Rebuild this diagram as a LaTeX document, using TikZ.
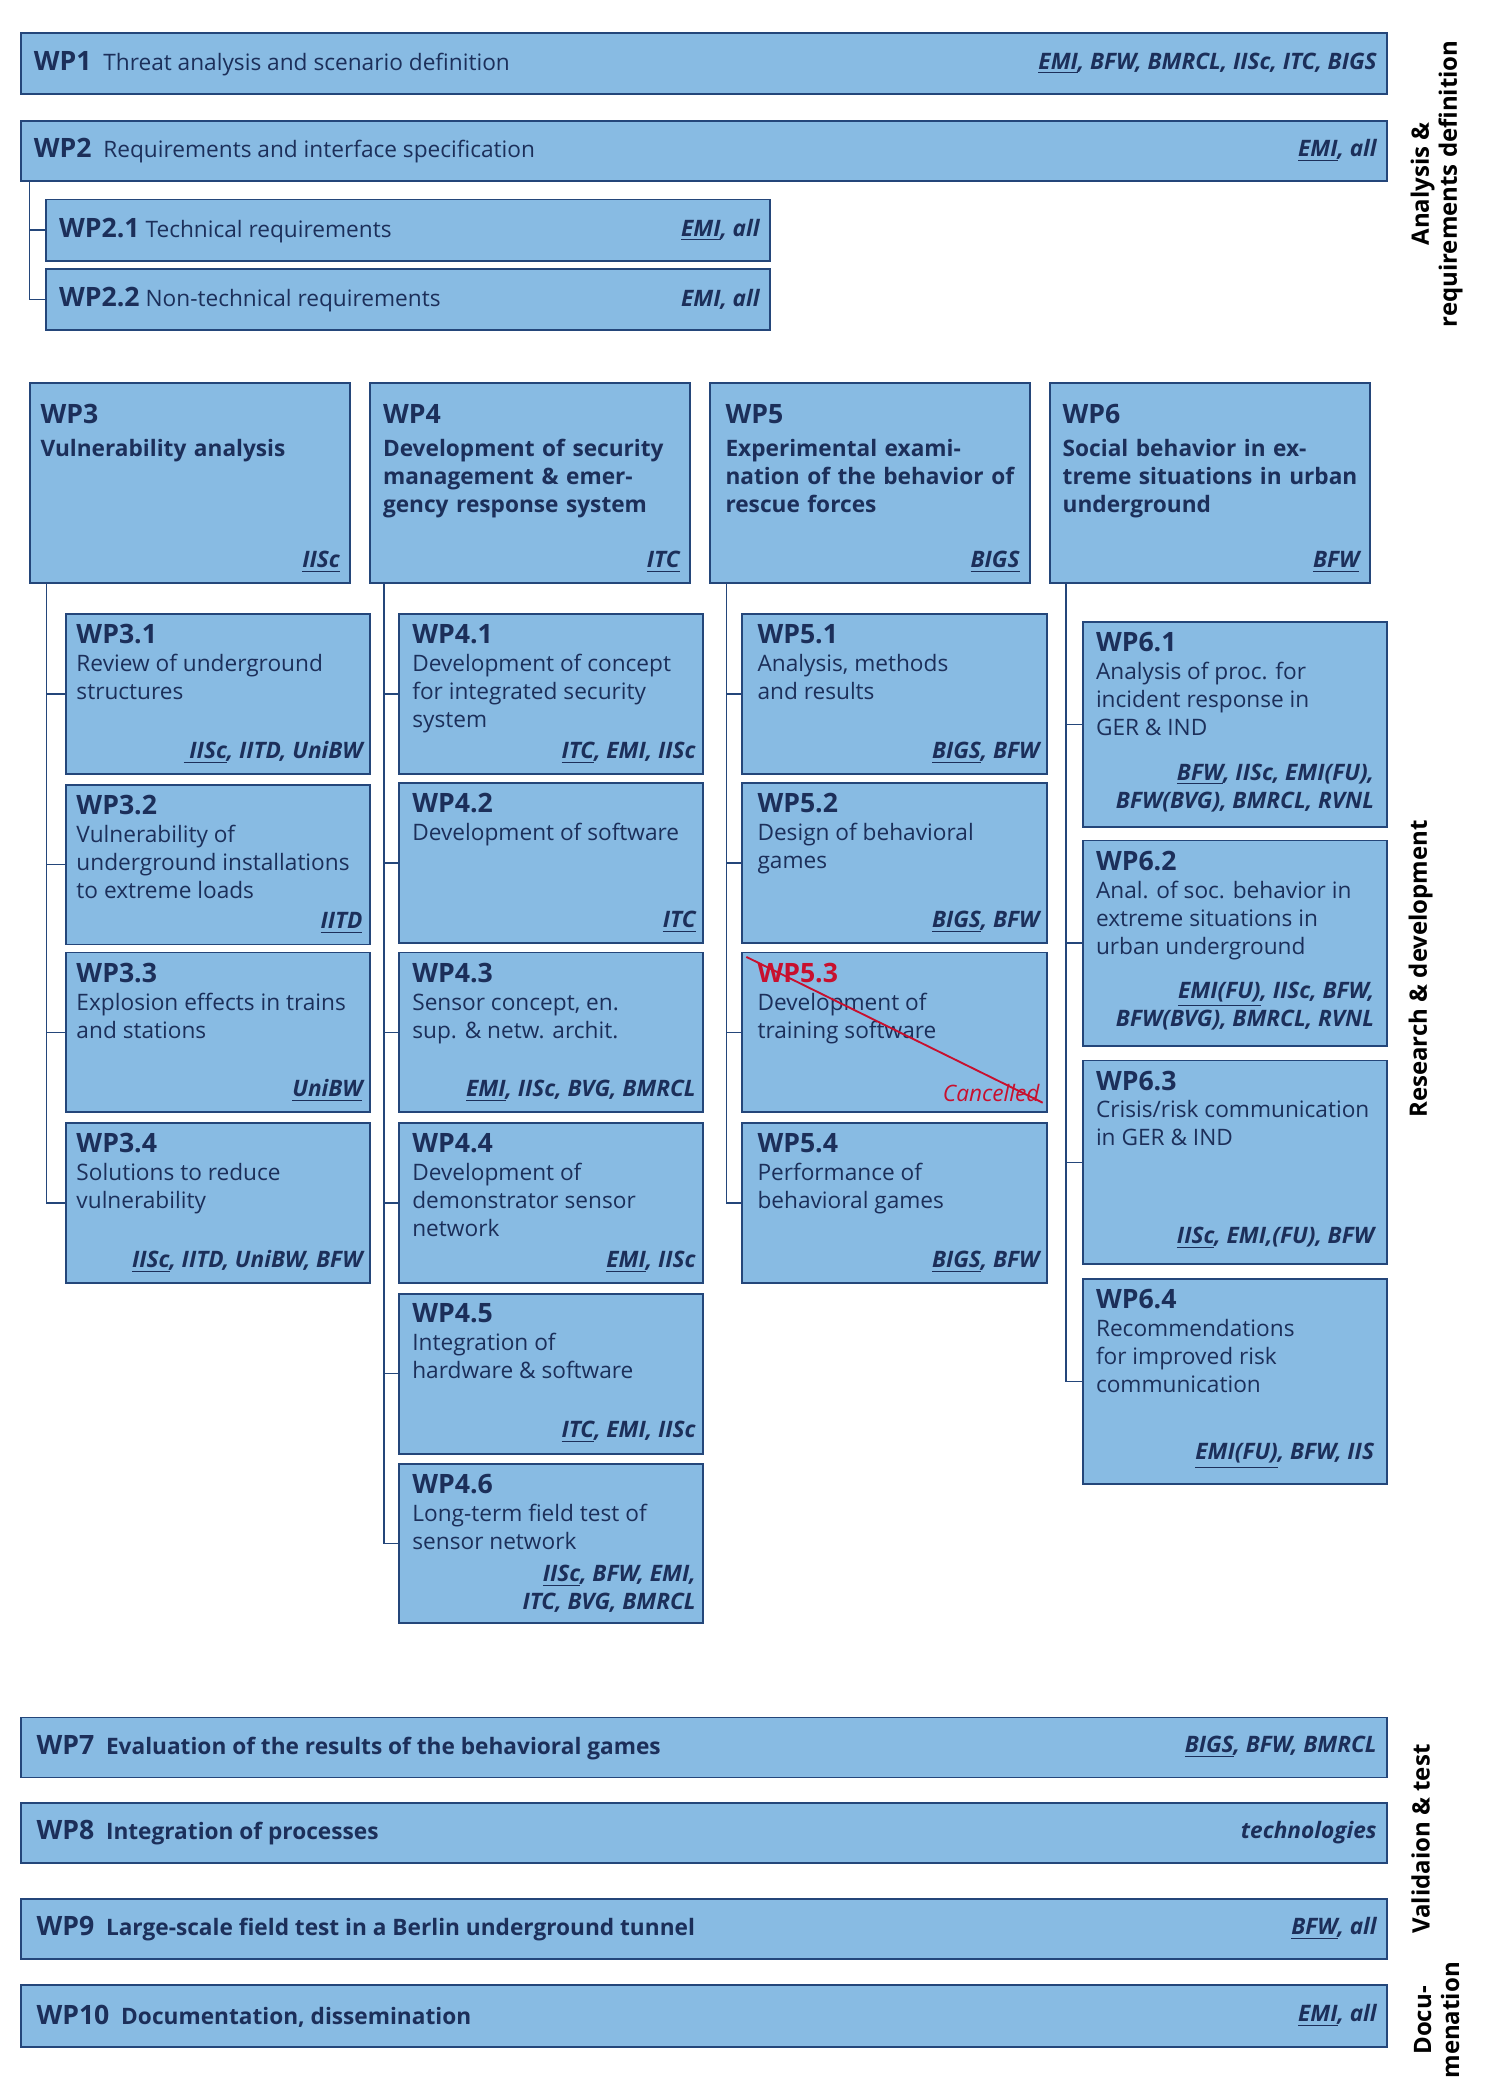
\documentclass[tikz,border=0pt]{standalone}
\usepackage{fontspec}
\setmainfont{Open Sans}
\definecolor{bfill}{HTML}{88BBE3}
\definecolor{bdraw}{HTML}{24467A}
\definecolor{txt}{HTML}{1C2F5A}
\definecolor{cred}{HTML}{C8102E}
\newcommand\wpb[5]{\node[box,anchor=north west,minimum width={(#4-#2)*0.5pt},minimum height={(#5-#3)*0.5pt}] (#1) at (#2,#3) {};}
\newcommand\hd[1]{{\fontsize{10}{12}\selectfont\bfseries #1}}
\newcommand\pt[1]{{\bfseries\itshape #1}}
\begin{document}
\begin{tikzpicture}[x=0.5pt,y=-0.5pt,
  box/.style={draw=bdraw,fill=bfill,line width=0.7pt,inner sep=0pt},
  conn/.style={draw=bdraw,line width=0.6pt},
  ttl/.style={anchor=north west,align=left,text=txt,font=\fontsize{8.5}{10.5}\selectfont,inner sep=0pt},
  ptn/.style={anchor=south east,align=right,text=txt,font=\fontsize{8.5}{10.5}\selectfont\bfseries\itshape,inner sep=0pt},
  side/.style={rotate=90,align=center,text=black,font=\fontsize{9}{10.5}\selectfont\bfseries}]
\useasboundingbox (0,0) rectangle (1114,1560);
% long bars
\wpb{wp1}{15}{24}{1040}{70}
\node[ttl,anchor=west] (t1) at ([xshift=5pt]wp1.west) {\hd{WP1}\ \ Threat analysis and scenario definition};
\node[ptn,anchor=east] (p1) at ([xshift=-4pt]wp1.east) {\underline{EMI}, BFW, BMRCL, IISc, ITC, BIGS};
\wpb{wp2}{15}{90}{1040}{135}
\node[ttl,anchor=west] (t2) at ([xshift=5pt]wp2.west) {\hd{WP2}\ \ Requirements and interface specification};
\node[ptn,anchor=east] (p2) at ([xshift=-4pt]wp2.east) {\underline{EMI}, all};
\wpb{wp21}{34}{149}{577}{195}
\node[ttl,anchor=west] (t21) at ([xshift=5pt]wp21.west) {\hd{WP2.1} Technical requirements};
\node[ptn,anchor=east] (p21) at ([xshift=-4pt]wp21.east) {\underline{EMI}, all};
\wpb{wp22}{34}{201}{577}{247}
\node[ttl,anchor=west] (t22) at ([xshift=5pt]wp22.west) {\hd{WP2.2} Non-technical requirements};
\node[ptn,anchor=east] (p22) at ([xshift=-4pt]wp22.east) {EMI, all};
\draw[conn] ([xshift=3.5pt]wp2.south west) |- (wp21.west);
\draw[conn] ([xshift=3.5pt]wp2.south west) |- (wp22.west);
% column heads
\wpb{wp3}{22}{287}{262}{437}
\node[ttl,text width=112pt] (t3) at ([xshift=4pt,yshift=-8pt]wp3.north west) {\hd{WP3}\\[2pt]\bfseries Vulnerability analysis};
\node[ptn] (p3) at ([xshift=-4pt,yshift=4pt]wp3.south east) {\underline{IISc}};
\wpb{wp4}{277}{287}{517}{437}
\node[ttl,text width=112pt] (t4) at ([xshift=5pt,yshift=-8pt]wp4.north west) {\hd{WP4}\\[2pt]\bfseries Development of security management \& emer-gency response system};
\node[ptn] (p4) at ([xshift=-4pt,yshift=4pt]wp4.south east) {\underline{ITC}};
\wpb{wp5}{532}{287}{772}{437}
\node[ttl,text width=112pt] (t5) at ([xshift=6pt,yshift=-8pt]wp5.north west) {\hd{WP5}\\[2pt]\bfseries Experimental exami-\\nation of the behavior of rescue forces};
\node[ptn] (p5) at ([xshift=-4pt,yshift=4pt]wp5.south east) {\underline{BIGS}};
\wpb{wp6}{787}{287}{1027}{437}
\node[ttl,text width=112pt] (t6) at ([xshift=5pt,yshift=-8pt]wp6.north west) {\hd{WP6}\\[2pt]\bfseries Social behavior in extreme situations in urban underground};
\node[ptn] (p6) at ([xshift=-4pt,yshift=4pt]wp6.south east) {\underline{BFW}};
% WP3 subs
\wpb{wp31}{49}{460}{277}{580}
\wpb{wp32}{49}{588}{277}{708}
\wpb{wp33}{49}{714}{277}{834}
\wpb{wp34}{49}{842}{277}{962}
\foreach \n/\t/\p in {wp31/{\hd{WP3.1}\\Review of underground\\structures}/{\underline{\ IISc}, IITD, UniBW},
  wp32/{\hd{WP3.2}\\Vulnerability of\\underground installations\\to extreme loads}/{\underline{IITD}},
  wp33/{\hd{WP3.3}\\Explosion effects in trains\\and stations}/{\underline{UniBW}},
  wp34/{\hd{WP3.4}\\Solutions to reduce\\vulnerability}/{\underline{IISc}, IITD, UniBW, BFW}}{
  \node[ttl] (t\n) at ([xshift=4pt,yshift=-4pt]\n.north west) {\t};
  \node[ptn] (p\n) at ([xshift=-3pt,yshift=4pt]\n.south east) {\p};
  \draw[conn] ([xshift=6.5pt]wp3.south west) |- (\n.west);}
% WP4 subs
\wpb{wp41}{299}{460}{527}{580}
\wpb{wp42}{299}{587}{527}{707}
\wpb{wp43}{299}{714}{527}{834}
\wpb{wp44}{299}{842}{527}{962}
\wpb{wp45}{299}{970}{527}{1090}
\wpb{wp46}{299}{1098}{527}{1217}
\foreach \n/\t/\p in {wp41/{\hd{WP4.1}\\Development of concept\\for integrated security\\system}/{\underline{ITC}, EMI, IISc},
  wp42/{\hd{WP4.2}\\Development of software}/{\underline{ITC}},
  wp43/{\hd{WP4.3}\\Sensor concept, en.\\sup. \& netw. archit.}/{\underline{EMI}, IISc, BVG, BMRCL},
  wp44/{\hd{WP4.4}\\Development of\\demonstrator sensor\\network}/{\underline{EMI}, IISc},
  wp45/{\hd{WP4.5}\\Integration of\\hardware \& software}/{\underline{ITC}, EMI, IISc},
  wp46/{\hd{WP4.6}\\Long-term field test of\\sensor network}/{\underline{IISc}, BFW, EMI,\\ITC, BVG, BMRCL}}{
  \node[ttl] (t\n) at ([xshift=5pt,yshift=-4pt]\n.north west) {\t};
  \node[ptn] (p\n) at ([xshift=-3pt,yshift=4pt]\n.south east) {\p};
  \draw[conn] ([xshift=5.5pt]wp4.south west) |- (\n.west);}
% WP5 subs
\wpb{wp51}{556}{460}{785}{580}
\wpb{wp52}{556}{587}{785}{707}
\wpb{wp53}{556}{714}{785}{834}
\wpb{wp54}{556}{842}{785}{962}
\foreach \n/\t/\p in {wp51/{\hd{WP5.1}\\Analysis, methods\\and results}/{\underline{BIGS}, BFW},
  wp52/{\hd{WP5.2}\\Design of behavioral\\games}/{\underline{BIGS}, BFW},
  wp54/{\hd{WP5.4}\\Performance of\\behavioral games}/{\underline{BIGS}, BFW}}{
  \node[ttl] (t\n) at ([xshift=6pt,yshift=-4pt]\n.north west) {\t};
  \node[ptn] (p\n) at ([xshift=-3pt,yshift=4pt]\n.south east) {\p};}
\node[ttl] (twp53) at ([xshift=6pt,yshift=-4pt]wp53.north west) {\textcolor{cred}{\hd{WP5.3}}\\Development of\\training software};
\node[ptn,text=cred] (pwp53) at ([xshift=-3pt,yshift=4pt]wp53.south east) {\mdseries Cancelled};
\draw[cred,line width=0.7pt] ([xshift=2pt,yshift=-2pt]wp53.north west) -- ([xshift=-2pt,yshift=4pt]wp53.south east);
\foreach \n in {wp51,wp52,wp53,wp54}{\draw[conn] ([xshift=6.5pt]wp5.south west) |- (\n.west);}
% WP6 subs
\wpb{wp61}{812}{466}{1040}{620}
\wpb{wp62}{812}{630}{1040}{784}
\wpb{wp63}{812}{795}{1040}{948}
\wpb{wp64}{812}{959}{1040}{1113}
\foreach \n/\t/\p in {wp61/{\hd{WP6.1}\\Analysis of proc. for\\incident response in\\GER \& IND}/{\underline{BFW}, IISc, EMI(FU),\\BFW(BVG), BMRCL, RVNL},
  wp62/{\hd{WP6.2}\\Anal. of soc. behavior in\\extreme situations in\\urban underground}/{\underline{EMI(FU)}, IISc, BFW,\\BFW(BVG), BMRCL, RVNL},
  wp63/{\hd{WP6.3}\\Crisis/risk communication\\in GER \& IND}/{\underline{IISc}, EMI,(FU), BFW},
  wp64/{\hd{WP6.4}\\Recommendations\\for improved risk\\communication}/{\underline{EMI(FU)}, BFW, IIS}}{
  \node[ttl] (t\n) at ([xshift=5pt,yshift=-4pt]\n.north west) {\t};
  \node[ptn] (p\n) at ([xshift=-5pt,yshift=6pt]\n.south east) {\p};
  \draw[conn] ([xshift=6.5pt]wp6.south west) |- (\n.west);}
% bottom bars
\foreach \n/\ya/\yb/\h/\t/\p in {wp7/1288/1333/WP7/Evaluation of the results of the behavioral games/{\underline{BIGS}, BFW, BMRCL},
  wp8/1352/1397/WP8/Integration of processes/technologies/methods for field test/{\underline{ITC}, all},
  wp9/1424/1469/WP9/Large-scale field test in a Berlin underground tunnel/{\underline{BFW}, all},
  wp10/1489/1535/WP10/{Documentation, dissemination}/{\underline{EMI}, all}}{
  \wpb{\n}{15}{\ya}{1040}{\yb}
  \node[ttl,anchor=west] (t\n) at ([xshift=6pt]\n.west) {\hd{\h}\ \ \textbf{\t}};
  \node[ptn,anchor=east] (p\n) at ([xshift=-4pt]\n.east) {\p};}
% side labels
\node[side] (s1) at (1078,138) {Analysis \&\\requirements definition};
\node[side] (s2) at (1066,727) {Research \& development};
\node[side] (s3) at (1066,1380) {Validaion \& test};
\node[side] (s4) at (1078,1516) {Docu-\\menation};
\end{tikzpicture}
\end{document}
